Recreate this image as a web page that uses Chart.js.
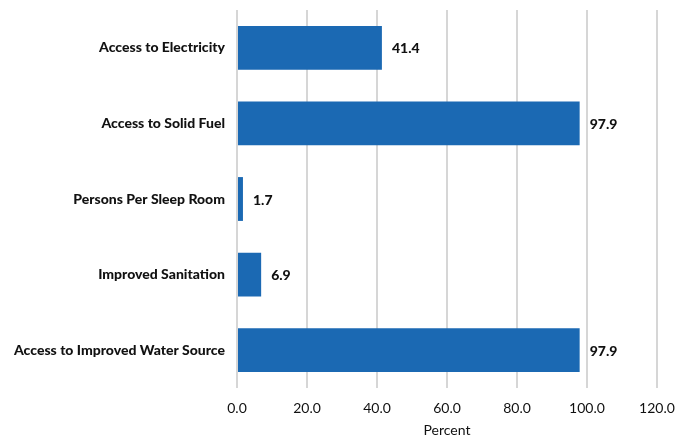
<!DOCTYPE html>
<html>
<head>
<meta charset="utf-8">
<script src="https://cdn.jsdelivr.net/npm/chart.js@4"></script>
<style>
  html, body { margin: 0; padding: 0; background: #fff; }
  #wrap { width: 676px; height: 441px; }
</style>
</head>
<body>
<div id="wrap"><canvas id="c" width="676" height="441"></canvas></div>
<script>
const categories = [
  'Access to Electricity',
  'Access to Solid Fuel',
  'Persons Per Sleep Room',
  'Improved Sanitation',
  'Access to Improved Water Source'
];
const values = [41.4, 97.9, 1.7, 6.9, 97.9];
const axisTitle = 'Percent';

const FONT = 'Lato, "Open Sans", sans-serif';

// writes each bar's value just past its end
const valueLabels = {
  id: 'valueLabels',
  afterDatasetsDraw(chart) {
    const ctx = chart.ctx;
    const meta = chart.getDatasetMeta(0);
    ctx.save();
    ctx.font = '900 14px ' + FONT;
    ctx.fillStyle = '#111';
    ctx.textAlign = 'left';
    ctx.textBaseline = 'middle';
    meta.data.forEach((bar, i) => {
      ctx.fillText(values[i].toFixed(1), bar.x + 10, bar.y + 1);
    });
    ctx.restore();
  }
};

new Chart(document.getElementById('c'), {
  type: 'bar',
  data: {
    labels: categories,
    datasets: [{
      data: values,
      backgroundColor: '#1b69b3',
      borderWidth: 0,
      categoryPercentage: 0.58,
      barPercentage: 1.0
    }]
  },
  options: {
    indexAxis: 'y',
    responsive: false,
    animation: false,
    layout: { padding: { top: 10, right: 0, bottom: 0, left: 0 } },
    plugins: { legend: { display: false }, tooltip: { enabled: false } },
    scales: {
      x: {
        min: 0, max: 120,
        ticks: {
          stepSize: 20,
          color: '#111',
          font: { family: FONT, size: 14 },
          padding: 12,
          callback: v => Number(v).toFixed(1)
        },
        grid: { color: '#d6d6d6', lineWidth: 2, drawTicks: false },
        border: { display: false },
        title: { display: true, text: axisTitle, color: '#111', font: { family: FONT, size: 14 }, padding: { top: 6, bottom: 2 } },
        afterFit(s) { s.height = 53; s.paddingRight = 19; }
      },
      y: {
        ticks: {
          color: '#111',
          font: { family: FONT, size: 14, weight: '900' },
          padding: 12
        },
        grid: { display: false, drawTicks: false },
        border: { display: false },
        afterFit(s) { s.width = 237; s.paddingTop = 0; s.paddingBottom = 0; }
      }
    }
  },
  plugins: [valueLabels]
});
</script>
</body>
</html>
